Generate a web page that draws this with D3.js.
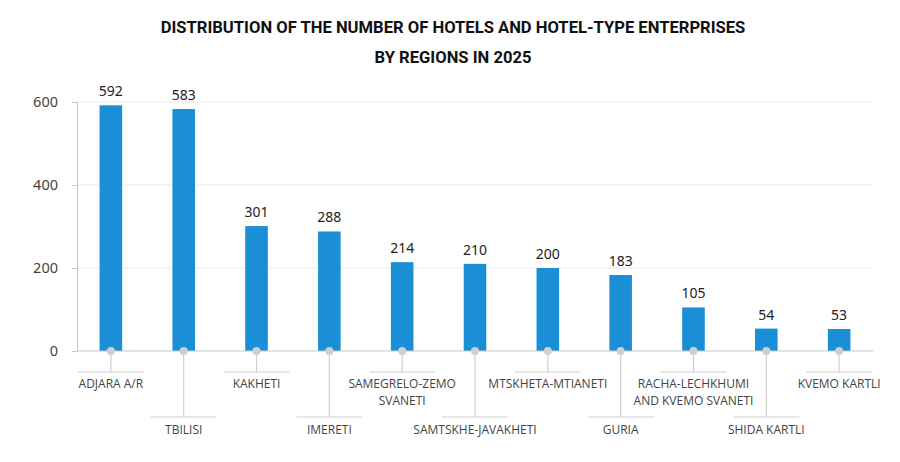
<!DOCTYPE html>
<html>
<head>
<meta charset="utf-8">
<script src="https://cdn.jsdelivr.net/npm/d3@7"></script>
<style>
  body { margin: 0; background: #fff; }
</style>
</head>
<body>
<script>
// chart data
const regions = [
  "ADJARA A/R", "TBILISI", "KAKHETI", "IMERETI", "SAMEGRELO-ZEMO SVANETI",
  "SAMTSKHE-JAVAKHETI", "MTSKHETA-MTIANETI", "GURIA",
  "RACHA-LECHKHUMI AND KVEMO SVANETI", "SHIDA KARTLI", "KVEMO KARTLI"
];
const labelLines = [
  ["ADJARA A/R"], ["TBILISI"], ["KAKHETI"], ["IMERETI"], ["SAMEGRELO-ZEMO", "SVANETI"],
  ["SAMTSKHE-JAVAKHETI"], ["MTSKHETA-MTIANETI"], ["GURIA"],
  ["RACHA-LECHKHUMI", "AND KVEMO SVANETI"], ["SHIDA KARTLI"], ["KVEMO KARTLI"]
];
const hotels = [592, 583, 301, 288, 214, 210, 200, 183, 105, 54, 53];
const yTicks = [0, 200, 400, 600];
const titleLines = [
  "DISTRIBUTION OF THE NUMBER OF HOTELS AND HOTEL-TYPE ENTERPRISES",
  "BY REGIONS IN 2025"
];

const W = 900, H = 462;
const margin = {top: 102, left: 77, right: 27, bottom: 111};
const width = W - margin.left - margin.right;
const height = H - margin.top - margin.bottom;

const svg = d3.select("body").append("svg")
  .attr("width", W)
  .attr("height", H);

// title
svg.selectAll("text.title")
  .data(titleLines)
  .enter().append("text")
  .attr("class", "title")
  .attr("x", 453)
  .attr("y", (d, i) => 33 + i * 30)
  .attr("text-anchor", "middle")
  .style("font-family", "Roboto, sans-serif")
  .style("font-weight", "bold")
  .style("font-size", "16.6px")
  .style("fill", "#111")
  .text(d => d);

const g = svg.append("g")
  .attr("transform", `translate(${margin.left}, ${margin.top})`);

let xScale = d3.scaleBand(regions, [0, width]).paddingInner(0.69).paddingOuter(0.31);
let yScale = d3.scaleLinear([0, 600], [height, 0]);

// gridlines
g.selectAll("line.grid")
  .data(yTicks.filter(d => d > 0))
  .enter().append("line")
  .attr("x1", 0).attr("x2", width)
  .attr("y1", d => yScale(d)).attr("y2", d => yScale(d))
  .attr("stroke", "#ebebeb")
  .attr("stroke-width", 1);

// y axis
let yAxis = d3.axisLeft(yScale).tickValues(yTicks).tickSize(5).tickPadding(14);
const yG = g.append("g").call(yAxis);
yG.select(".domain").attr("stroke", "#c8c8c8");
yG.selectAll(".tick line").attr("stroke", "#c8c8c8");
yG.selectAll(".tick text")
  .style("font-family", "'Noto Sans', sans-serif")
  .style("font-size", "14.5px")
  .style("fill", "#444");

// bars
g.selectAll("rect.bar")
  .data(hotels)
  .enter().append("rect")
  .attr("class", "bar")
  .attr("x", (d, i) => xScale(regions[i]))
  .attr("y", d => yScale(d))
  .attr("width", xScale.bandwidth())
  .attr("height", d => height - yScale(d))
  .attr("fill", "#1a8fd6");

// value labels
g.selectAll("text.value")
  .data(hotels)
  .enter().append("text")
  .attr("class", "value")
  .attr("x", (d, i) => xScale(regions[i]) + xScale.bandwidth() / 2)
  .attr("y", d => yScale(d) - 9)
  .attr("text-anchor", "middle")
  .style("font-family", "'Noto Sans', sans-serif")
  .style("font-size", "14px")
  .style("fill", "#222")
  .text(d => d);

// baseline
g.append("line")
  .attr("x1", 0).attr("x2", width)
  .attr("y1", height).attr("y2", height)
  .attr("stroke", "#c8c8c8")
  .attr("stroke-width", 1.2);

// leader lines and category labels (alternating levels)
const levelLineY = [height + 21, height + 66];
const levelTextY = [height + 37, height + 83];

regions.forEach((r, i) => {
  const cx = xScale(r) + xScale.bandwidth() / 2;
  const lvl = i % 2;
  g.append("line")
    .attr("x1", cx).attr("x2", cx)
    .attr("y1", height).attr("y2", levelLineY[lvl])
    .attr("stroke", "#d0d0d0")
    .attr("stroke-width", 1.2);
  g.append("line")
    .attr("x1", cx - 33).attr("x2", cx + 33)
    .attr("y1", levelLineY[lvl]).attr("y2", levelLineY[lvl])
    .attr("stroke", "#d0d0d0")
    .attr("stroke-width", 1.2);
  g.append("circle")
    .attr("cx", cx).attr("cy", height)
    .attr("r", 4)
    .attr("fill", "#cfcfcf");
  const t = g.append("text")
    .attr("x", cx)
    .attr("y", levelTextY[lvl])
    .attr("text-anchor", "middle")
    .style("font-family", "'Open Sans', sans-serif")
    .style("font-size", "12px")
    .style("fill", "#444");
  labelLines[i].forEach((line, j) => {
    t.append("tspan")
      .attr("x", cx)
      .attr("dy", j === 0 ? 0 : 17)
      .text(line);
  });
});
</script>
</body>
</html>
